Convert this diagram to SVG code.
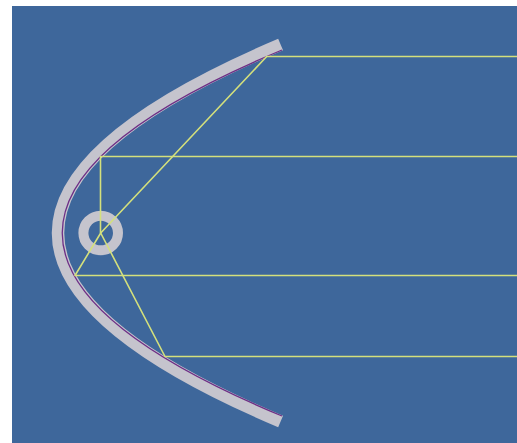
<svg xmlns="http://www.w3.org/2000/svg" width="517" height="443" viewBox="0 0 517 443">
  <style>
    .ray { fill: none; stroke: #d4e07c; stroke-width: 1.6; stroke-linejoin: round; }
    .band { fill: none; stroke: #c5c4cd; stroke-width: 12.5; stroke-linecap: butt; }
    .mirror { fill: none; stroke: #6e2f86; stroke-width: 1.3; }
    .focus { fill: none; stroke: #c5c4cd; stroke-width: 10; }
  </style>
  <rect x="0" y="0" width="517" height="443" fill="#ffffff"/>
  <rect id="background" x="12" y="6" width="505" height="437" fill="#3e679b"/>
  <g id="reflector">
    <path class="band" d="M280.6,44.5 Q-164.6,233 280.6,421.5"/>
    <path class="mirror" d="M282,50 Q-157.5,233 282,416"/>
  </g>
  <g id="focus-point">
    <circle class="focus" cx="100.7" cy="233" r="17.3"/>
  </g>
  <g id="connectors">
    <polyline class="ray" points="517,56.5 266.7,56.5 100.7,233"/>
    <polyline class="ray" points="517,156.5 100.5,156.5 100.5,233"/>
    <polyline class="ray" points="517,275.5 75,275.5 100.7,233"/>
    <polyline class="ray" points="517,356.5 165,356.5 100.7,233"/>
  </g>
</svg>
